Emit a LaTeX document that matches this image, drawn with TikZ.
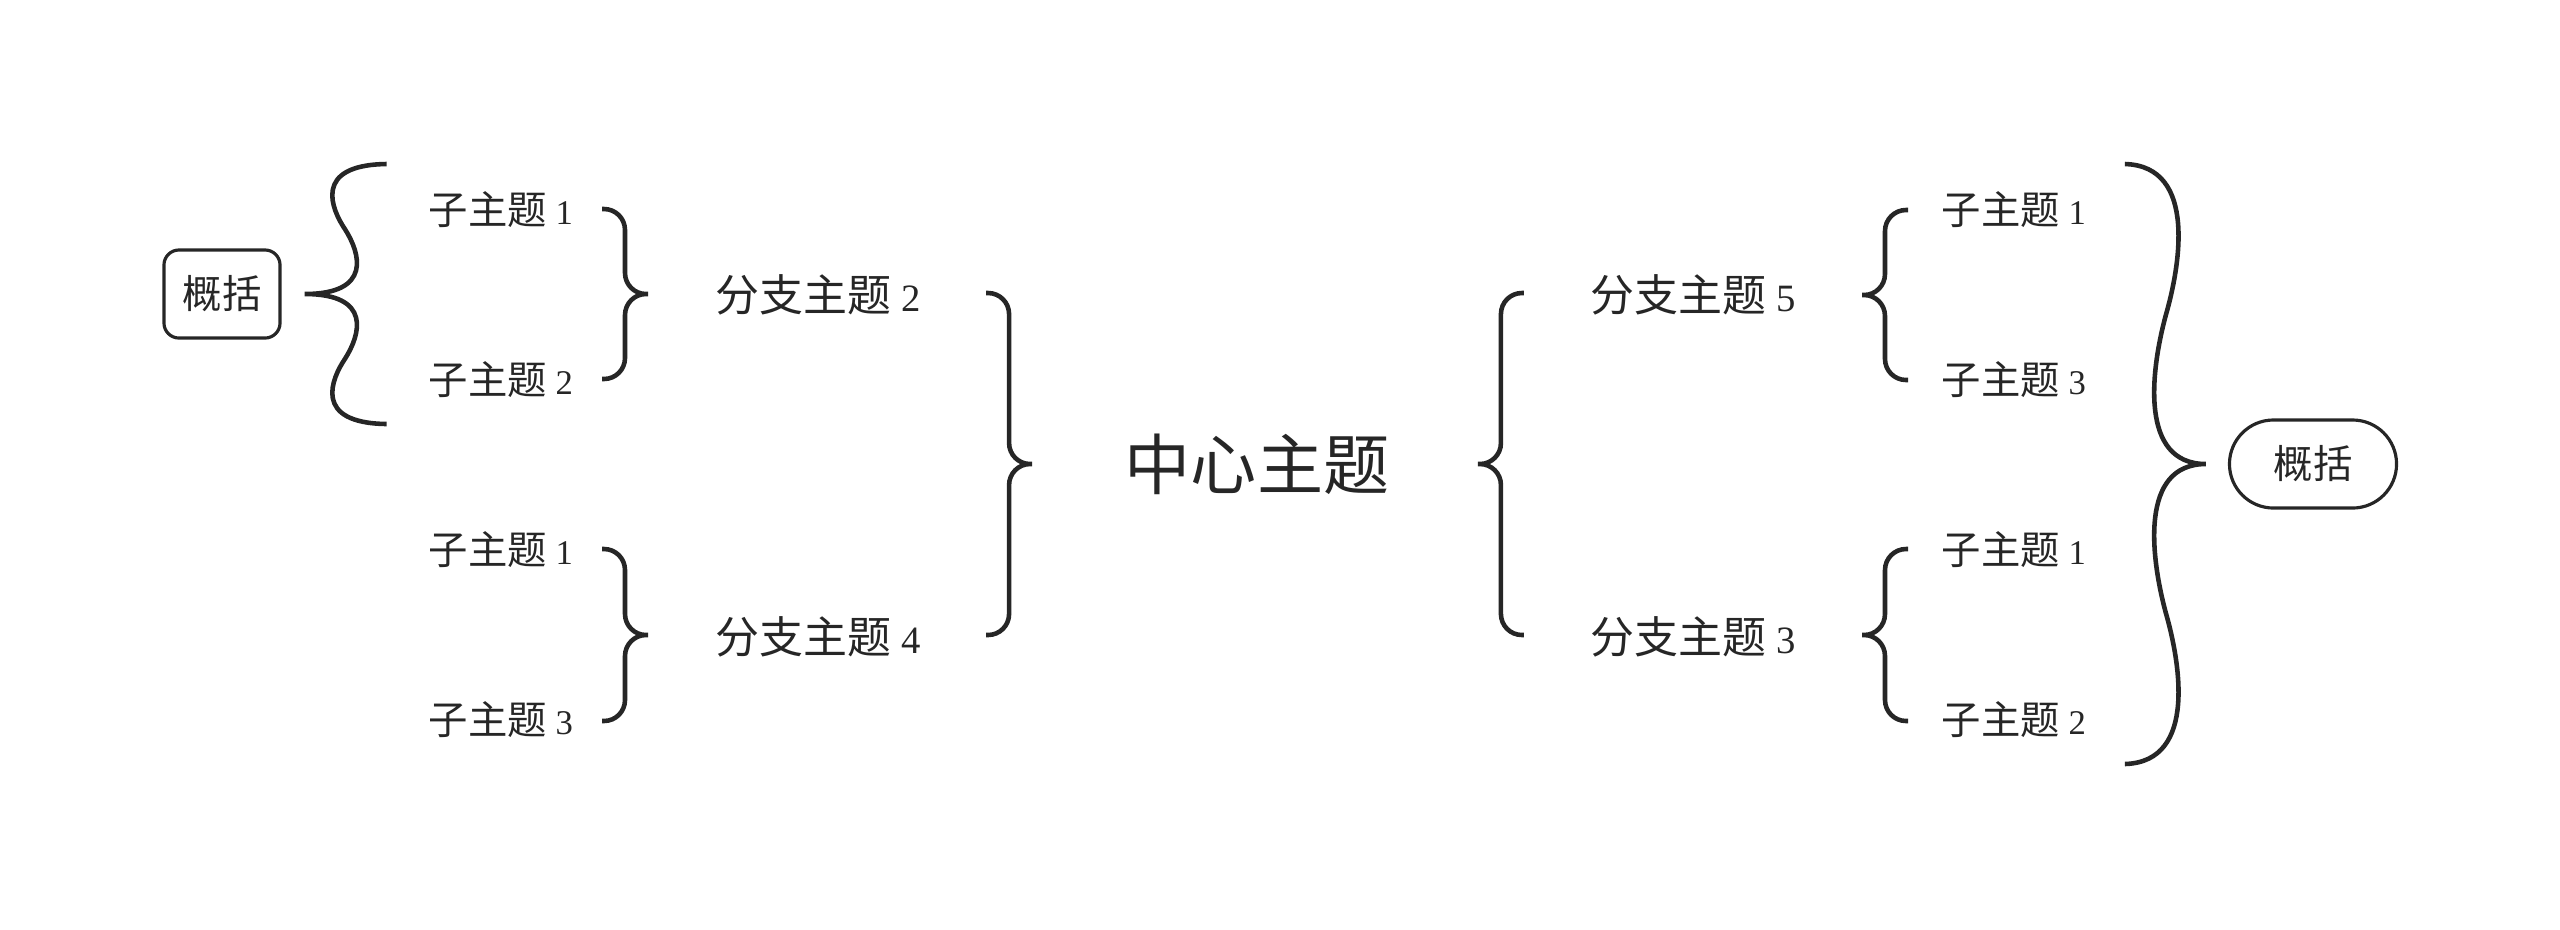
\documentclass[tikz,border=0pt]{standalone}
\usepackage{fontspec}
\setmainfont{Liberation Serif}[Scale=0.88]
\newfontfamily\cjk{Noto Sans CJK SC}
\usetikzlibrary{positioning, calc}
\definecolor{ink}{HTML}{262626}
\tikzset{
  bracket/.style={draw=ink, line width=1.3pt, rounded corners=0.21cm},
  curly/.pic={
    \draw[bracket] (0,0) -- (-23,0) -- (-23,-#1) -- (-46,-#1)
                   (0,0) -- (-23,0) -- (-23,#1) -- (-46,#1);
  },
  wavy/.pic={
    \draw[bracket, sharp corners]
      (0,0) .. controls (-0.827,0) and (-0.679,-0.313) .. (-0.494,-0.497)
            .. controls (-0.333,-0.647) and (-0.086,-0.993) .. (-1,-1)
      (0,0) .. controls (-0.827,0) and (-0.679,0.313) .. (-0.494,0.497)
            .. controls (-0.333,0.647) and (-0.086,0.993) .. (-1,1);
  },
  subtopic/.style={anchor=west, inner sep=0pt, text=ink, font=\fontsize{11.2}{13}\selectfont},
  branch/.style={anchor=west, inner sep=0pt, text=ink, font=\fontsize{12.5}{15}\selectfont},
  central/.style={inner sep=0pt, text=ink, font=\cjk\fontsize{18.8}{22}\selectfont},
  gist/.style={draw=ink, line width=0.9pt, text=ink, inner sep=0pt,
    minimum height=0.88cm, font=\cjk\fontsize{11.2}{13}\selectfont}
}

\begin{document}
\begin{tikzpicture}[x=0.01cm, y=-0.01cm]
  \useasboundingbox (0,0) rectangle (2560,929);

  % Centre
  \node[central] (center) at (1257,464) {中心主题};

  % Left side
  \node[branch] (br2) at (715,295) {{\cjk 分支主题} 2};
  \node[branch] (br4) at (715,637) {{\cjk 分支主题} 4};
  \node[subtopic] (l21) at (428,210) {{\cjk 子主题} 1};
  \node[subtopic] (l22) at (428,380) {{\cjk 子主题} 2};
  \node[subtopic] (l41) at (428,550) {{\cjk 子主题} 1};
  \node[subtopic] (l43) at (428,720) {{\cjk 子主题} 3};
  \node[gist, minimum width=1.16cm, rounded corners=0.15cm] (sumL) at (222,294) {概括};

  % Right side
  \node[branch] (br5) at (1590,295) {{\cjk 分支主题} 5};
  \node[branch] (br3) at (1590,637) {{\cjk 分支主题} 3};
  \node[subtopic] (r51) at (1941,210) {{\cjk 子主题} 1};
  \node[subtopic] (r53) at (1941,380) {{\cjk 子主题} 3};
  \node[subtopic] (r31) at (1941,550) {{\cjk 子主题} 1};
  \node[subtopic] (r32) at (1941,720) {{\cjk 子主题} 2};
  \node[gist, minimum width=1.67cm, rounded corners=0.44cm] (sumR) at (2313,464) {概括};

  % Braces
  \pic at ($(center.west)+(-92,0)$) {curly=171};
  \pic[xscale=-1] at ($(center.east)+(88,0)$) {curly=171};
  \pic at ($(br2.west)+(-67,-1)$) {curly=85};
  \pic at ($(br4.west)+(-67,-2)$) {curly=86};
  \pic[xscale=-1] at ($(r51.west)!.5!(r53.west)+(-79,0)$) {curly=85};
  \pic[xscale=-1] at ($(r31.west)!.5!(r32.west)+(-79,0)$) {curly=86};
  \pic[xscale=-82, yscale=130] at ($(sumL.east)+(23,0)$) {wavy};
  \pic[xscale=81, yscale=300] at ($(sumR.west)+(-22,0)$) {wavy};

\end{tikzpicture}
\end{document}
